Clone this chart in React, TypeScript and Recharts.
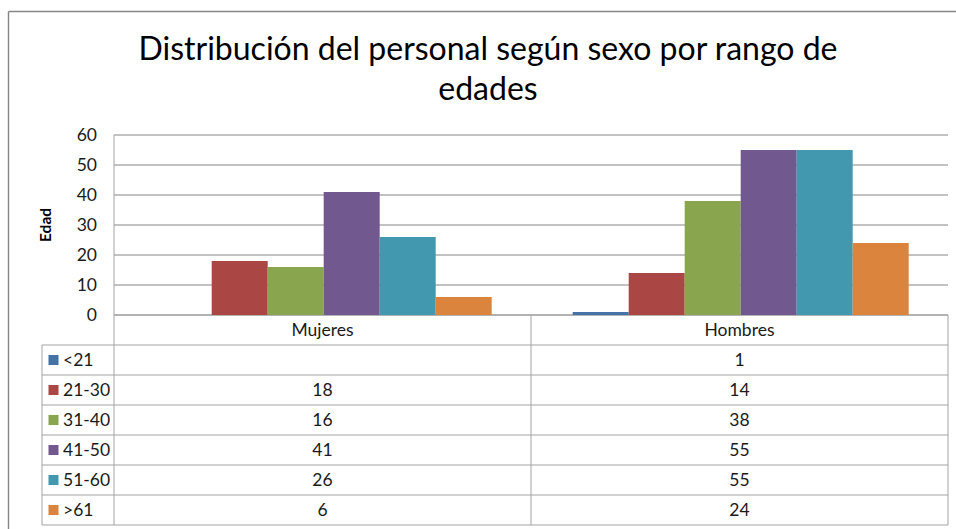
import React from 'react';
import { ComposedChart, Bar, XAxis, YAxis, CartesianGrid, Customized } from 'recharts';

// ---------- data ----------
const categories = ['Mujeres', 'Hombres'];
const seriesNames = ['<21', '21-30', '31-40', '41-50', '51-60', '>61'];
const seriesColors = ['#4572A7', '#AA4643', '#89A54E', '#71588F', '#4198AF', '#DB843D'];
const under21: (number | null)[] = [null, 1];
const r21to30: (number | null)[] = [18, 14];
const r31to40: (number | null)[] = [16, 38];
const r41to50: (number | null)[] = [41, 55];
const r51to60: (number | null)[] = [26, 55];
const over61: (number | null)[] = [6, 24];
const seriesValues = [under21, r21to30, r31to40, r41to50, r51to60, over61];
const yTicks = [0, 10, 20, 30, 40, 50, 60];
const titleLines = ['Distribución del personal según sexo por rango de', 'edades'];
const yAxisTitle = 'Edad';

const data = categories.map((c, i) => {
  const row: Record<string, any> = { category: c };
  seriesNames.forEach((_, j) => {
    row['s' + j] = seriesValues[j][i];
  });
  return row;
});

// ---------- layout ----------
const W = 956;
const H = 529;
const PLOT_LEFT = 114;
const PLOT_RIGHT = 948;
const PLOT_TOP = 135;
const PLOT_BOTTOM = 315;
const HEADER_H = 30;
const ROW_H = 30;
const LEGEND_LEFT = 42;
const XAXIS_H = 30;
const TABLE_BOTTOM = PLOT_BOTTOM + HEADER_H + ROW_H * seriesNames.length;
const FONT = 'Lato, "Open Sans", sans-serif';
const TABLE_LINE = '#a3a3a3';
const GRID_LINE = '#868686';
const TEXT = '#1a1a1a';
const TABLE_FS = 17.5;

const ColumnTick = (props: any) => {
  const { x, payload, index } = props;
  const i = typeof index === 'number' ? index : categories.indexOf(payload.value);
  return (
    <g>
      <text x={x} y={PLOT_BOTTOM + HEADER_H / 2} dy="0.36em" textAnchor="middle" fontSize={TABLE_FS} fill={TEXT} fontFamily={FONT}>
        {payload.value}
      </text>
      {seriesValues.map((vals, j) => {
        const v = vals[i];
        return (
          <text
            key={j}
            x={x}
            y={PLOT_BOTTOM + HEADER_H + ROW_H * j + ROW_H / 2}
            dy="0.36em"
            textAnchor="middle"
            fontSize={TABLE_FS}
            fill={TEXT}
            fontFamily={FONT}
          >
            {v === null || v === undefined ? '' : String(v)}
          </text>
        );
      })}
    </g>
  );
};

const Decorations = () => {
  const bw = (PLOT_RIGHT - PLOT_LEFT) / categories.length;
  return (
    <g>
      {/* outer frame */}
      <line x1={8.5} y1={11.5} x2={W} y2={11.5} stroke={GRID_LINE} strokeWidth={1.4} />
      <line x1={8.5} y1={11.5} x2={8.5} y2={H} stroke={GRID_LINE} strokeWidth={1.4} />
      {/* title */}
      {titleLines.map((t, k) => (
        <text key={k} x={488} y={60 + k * 40} textAnchor="middle" fontSize={32} fill="#000" fontFamily={FONT}>
          {t}
        </text>
      ))}
      {/* y-axis title */}
      <text
        x={45}
        y={(PLOT_TOP + PLOT_BOTTOM) / 2}
        transform={`rotate(-90 45 ${(PLOT_TOP + PLOT_BOTTOM) / 2})`}
        textAnchor="middle"
        dy="0.36em"
        fontSize={15.5}
        fontWeight="bold"
        fill="#000"
        fontFamily={FONT}
      >
        {yAxisTitle}
      </text>
      {/* table frame */}
      <line x1={PLOT_LEFT} y1={PLOT_TOP} x2={PLOT_LEFT} y2={TABLE_BOTTOM} stroke={TABLE_LINE} />
      <line x1={PLOT_LEFT} y1={PLOT_BOTTOM} x2={PLOT_RIGHT} y2={PLOT_BOTTOM} stroke={TABLE_LINE} />
      <line x1={LEGEND_LEFT} y1={PLOT_BOTTOM + HEADER_H} x2={LEGEND_LEFT} y2={TABLE_BOTTOM} stroke={TABLE_LINE} />
      {categories.map((_, i) => (
        <line
          key={'v' + i}
          x1={PLOT_LEFT + bw * (i + 1)}
          y1={PLOT_BOTTOM}
          x2={PLOT_LEFT + bw * (i + 1)}
          y2={TABLE_BOTTOM}
          stroke={TABLE_LINE}
        />
      ))}
      {seriesNames.map((_, j) => (
        <line
          key={'h' + j}
          x1={LEGEND_LEFT}
          y1={PLOT_BOTTOM + HEADER_H + ROW_H * j}
          x2={PLOT_RIGHT}
          y2={PLOT_BOTTOM + HEADER_H + ROW_H * j}
          stroke={TABLE_LINE}
        />
      ))}
      <line x1={LEGEND_LEFT} y1={TABLE_BOTTOM} x2={PLOT_RIGHT} y2={TABLE_BOTTOM} stroke={TABLE_LINE} />
      {/* legend column */}
      {seriesNames.map((s, j) => {
        const cy = PLOT_BOTTOM + HEADER_H + ROW_H * j + ROW_H / 2;
        return (
          <g key={'l' + j}>
            <rect x={48.5} y={cy - 5} width={10} height={10} fill={seriesColors[j]} />
            <text x={63} y={cy} dy="0.36em" fontSize={TABLE_FS} fill={TEXT} fontFamily={FONT}>
              {s}
            </text>
          </g>
        );
      })}
    </g>
  );
};

export default function App() {
  return (
    <div style={{ position: 'absolute', left: 0, top: 0, width: W, height: H, background: '#fff' }}>
      <ComposedChart
        width={W}
        height={H}
        data={data}
        margin={{ top: PLOT_TOP, right: W - PLOT_RIGHT, bottom: H - PLOT_BOTTOM - XAXIS_H, left: 0 }}
        barCategoryGap="10%"
        barGap={0}
        style={{ fontFamily: FONT }}
      >
        <CartesianGrid vertical={false} stroke={GRID_LINE} />
        <XAxis
          dataKey="category"
          height={XAXIS_H}
          axisLine={false}
          tickLine={false}
          interval={0}
          tick={<ColumnTick />}
        />
        <YAxis
          width={PLOT_LEFT}
          domain={[0, 60]}
          ticks={yTicks}
          axisLine={false}
          tickLine={false}
          tickSize={0}
          tickMargin={17}
          tick={{ fontSize: 17.5, fill: TEXT, fontFamily: FONT }}
        />
        {seriesNames.map((s, j) => (
          <Bar key={s} dataKey={'s' + j} name={s} fill={seriesColors[j]} isAnimationActive={false} />
        ))}
        <Customized component={<Decorations />} />
      </ComposedChart>
    </div>
  );
}
